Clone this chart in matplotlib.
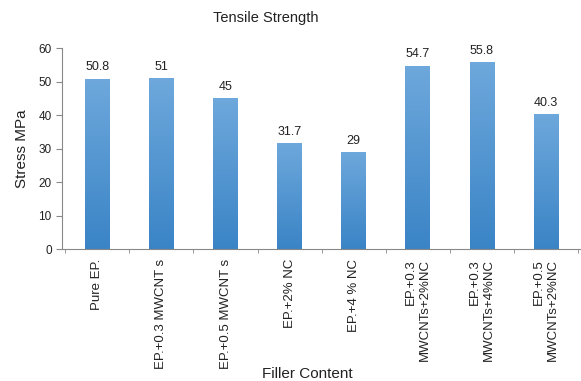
import numpy as np
import matplotlib.pyplot as plt
from matplotlib.colors import LinearSegmentedColormap

plt.rcParams['font.family'] = ['Liberation Sans', 'DejaVu Sans']

categories = ['Pure EP.', 'EP.+0.3 MWCNT s', 'EP.+0.5 MWCNT s', 'EP.+2% NC',
              'EP.+4 % NC', 'EP.+0.3\nMWCNTs+2%NC', 'EP.+0.3\nMWCNTs+4%NC',
              'EP.+0.5\nMWCNTs+2%NC']
stress = [50.8, 51, 45, 31.7, 29, 54.7, 55.8, 40.3]
value_labels = ['50.8', '51', '45', '31.7', '29', '54.7', '55.8', '40.3']

fig = plt.figure(figsize=(5.81, 3.81), dpi=100)
ax = fig.add_axes([0.107, 0.346, 0.893, 0.528])

x = np.arange(len(categories))
bw = 0.38
bars = ax.bar(x, stress, width=bw, color='none', edgecolor='none', zorder=2)

# gradient fill, lighter at top
cmap = LinearSegmentedColormap.from_list('blu', ['#3a84c6', '#6ea8dc'])
grad = np.linspace(0, 1, 256).reshape(-1, 1)
for b in bars:
    x0, y0 = b.get_x(), b.get_y()
    w, h = b.get_width(), b.get_height()
    im = ax.imshow(grad, cmap=cmap, origin='lower', aspect='auto',
                   extent=[x0, x0 + w, y0, y0 + h], zorder=2)
    im.set_clip_path(b)

for xi, v, s in zip(x, stress, value_labels):
    ax.text(xi, v + 1.6, s, ha='center', va='bottom', fontsize=9, color='#222222')

ax.set_xlim(-0.55, len(categories) - 0.45)
ax.set_ylim(0, 60)
ax.set_yticks(range(0, 61, 10))
ax.tick_params(axis='y', labelsize=8.5, length=4, color='#888888', labelcolor='#222222')

ax.set_xticks(x)
ax.set_xticklabels(categories, rotation=90, ha='center', va='top',
                   multialignment='right', fontsize=9.5, color='#222222',
                   linespacing=1.25)
ax.tick_params(axis='x', length=0, pad=7)
ax.set_xticks(np.arange(len(categories) + 1) - 0.5, minor=True)
ax.tick_params(axis='x', which='minor', length=3, color='#888888')

for sp in ['top', 'right']:
    ax.spines[sp].set_visible(False)
for sp in ['left', 'bottom']:
    ax.spines[sp].set_color('#888888')
    ax.spines[sp].set_linewidth(0.8)

fig.text(266 / 581, 1 - 18 / 381, 'Tensile Strength', ha='center', va='center',
         fontsize=10.5, color='#222222')
ax.set_ylabel('Stress MPa', fontsize=11, color='#222222', labelpad=7)
fig.text(307 / 581, 1 - 374 / 381, 'Filler Content', ha='center', va='center',
         fontsize=11, color='#222222')

fig.savefig('out.png', dpi=100)
